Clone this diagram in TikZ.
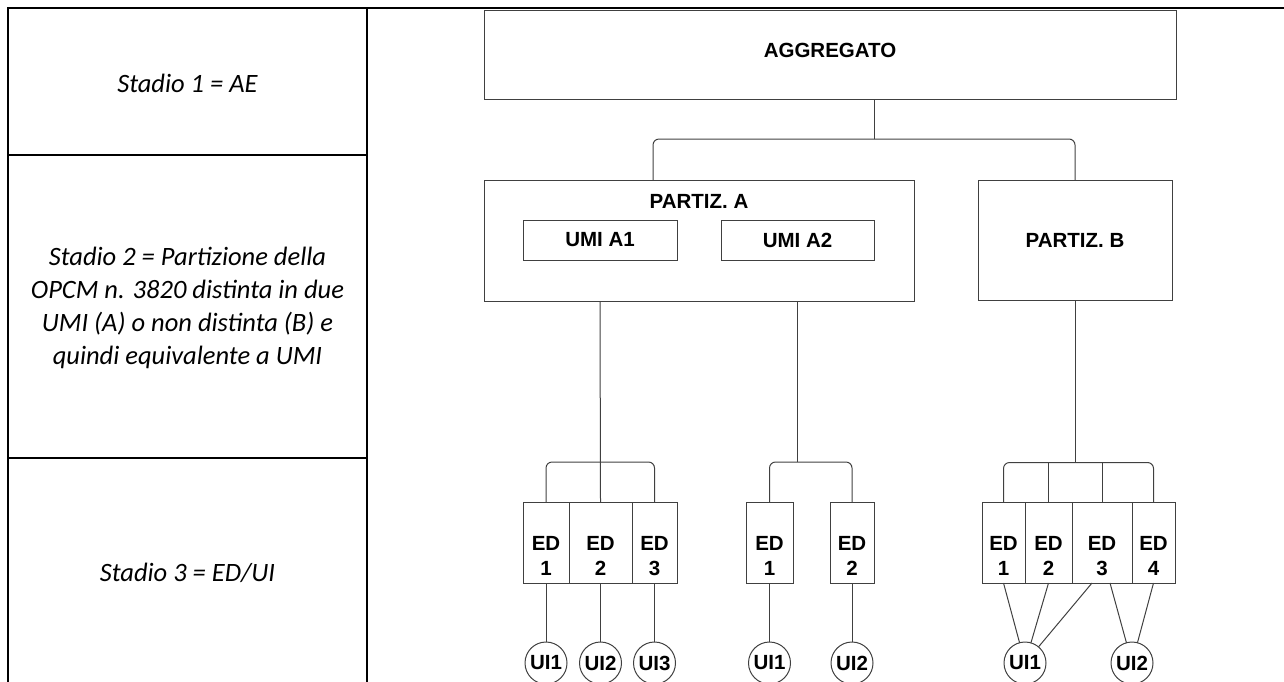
\documentclass[tikz,border=0pt]{standalone}
\usepackage{fontspec}
\setmainfont{Liberation Sans}
\newfontfamily\calib{Carlito}
\usetikzlibrary{positioning}

\begin{document}
\begin{tikzpicture}[x=1pt, y=-1pt,
	box/.style={draw=black!75, line width=1pt, inner sep=0pt, outer sep=0pt, font=\bfseries\fontsize{20.5}{24}\selectfont},
	ed/.style={box, minimum height=81pt},
	ui/.style={circle, draw=black!75, line width=1pt, minimum size=42pt, inner sep=0pt, outer sep=0pt, font=\bfseries\fontsize{20.5}{24}\selectfont},
	link/.style={draw=black!75, line width=1pt, rounded corners=6pt},
	tabline/.style={line width=2pt},
	stage/.style={align=center, font=\calib\itshape\fontsize{26.5}{33}\selectfont},
	edtxt/.style={align=center, text depth=0pt, yshift=-13pt, font=\bfseries\fontsize{20.5}{25}\selectfont},
	every label/.style={font=\bfseries\fontsize{20.5}{24}\selectfont},
	]
	\useasboundingbox (0,0) rectangle (1284,681);
	\clip (0,0) rectangle (1284,681);

	% table
	\draw[tabline] (8,700) -- (8,8) -- (1290,8);
	\draw[tabline] (367,8) -- (367,700);
	\draw[tabline] (8,155) -- (367,155);
	\draw[tabline] (8,458) -- (367,458);

	\node[stage] (st1) at (187.5,83) {Stadio 1 = AE};
	\node[stage] (st2) at (187.5,307.5) {Stadio 2 = Partizione della\\OPCM n. 3820 distinta in due\\UMI (A) o non distinta (B) e\\quindi equivalente a UMI};
	\node[stage] (st3) at (187.5,573) {Stadio 3 = ED/UI};

	% stadio 1 and 2
	\node[box, minimum width=692pt, minimum height=89pt, label={[yshift=4.5pt]center:AGGREGATO}] (agg) at (830,54.5) {};
	\node[box, minimum width=430pt, minimum height=121pt, label={[yshift=39.5pt]center:PARTIZ. A}] (pA) at (699,240.5) {};
	\node[box, minimum width=154pt, minimum height=40pt] (umiA1) at (600,240) {UMI A1};
	\node[box, minimum width=153pt, minimum height=40pt, right=44pt of umiA1] (umiA2) {UMI A2};
	\node[box, minimum width=194pt, minimum height=120pt, right=64pt of pA] (pB) {PARTIZ. B};

	% stadio 3
	\node[ed, minimum width=46pt, label={[edtxt]center:{ED\\1}}] (e11) at (546,542.5) {};
	\node[ed, minimum width=63pt, right=0pt of e11, label={[edtxt]center:{ED\\2}}] (e12) {};
	\node[ed, minimum width=45pt, right=0pt of e12, label={[edtxt]center:{ED\\3}}] (e13) {};

	\node[ed, minimum width=47pt, label={[edtxt]center:{ED\\1}}] (e21) at (769.5,542.5) {};
	\node[ed, minimum width=44pt, right=37pt of e21, label={[edtxt]center:{ED\\2}}] (e22) {};

	\node[ed, minimum width=43pt, label={[edtxt]center:{ED\\1}}] (e31) at (1003.5,542.5) {};
	\node[ed, minimum width=47pt, right=0pt of e31, label={[edtxt]center:{ED\\2}}] (e32) {};
	\node[ed, minimum width=60pt, right=0pt of e32, label={[edtxt]center:{ED\\3}}] (e33) {};
	\node[ed, minimum width=43pt, right=0pt of e33, label={[edtxt]center:{ED\\4}}] (e34) {};

	\node[ui, below=59pt of e11] (u11) {UI1};
	\node[ui, below=59pt of e12] (u12) {UI2};
	\node[ui, below=59pt of e13] (u13) {UI3};
	\node[ui, below=59pt of e21] (u21) {UI1};
	\node[ui, below=59pt of e22] (u22) {UI2};
	\node[ui] (u31) at (1025,663) {UI1};
	\node[ui] (u32) at (1132,663) {UI2};

	% connectors
	\draw[link] ([xshift=44pt]agg.south) -- ++(0,40) coordinate (bus0);
	\draw[link] (bus0) -| ([xshift=-46pt]pA.north);
	\draw[link] (bus0) -| (pB.north);

	\draw[link] (umiA1 |- pA.south) -- (e12.north);
	\draw[link] (e11.north) -- ++(0,-40) -| (e13.north);
	\draw[link] (umiA2 |- pA.south) -- ++(0,161) coordinate (bus2);
	\draw[link] (e21.north) |- (bus2) -| (e22.north);
	\draw[link] (pB.south) -- ++(0,162) coordinate (bus3);
	\draw[link] (e31.north) |- (bus3) -| (e34.north);
	\draw[link] (e32.north) -- (e32.north |- bus3);
	\draw[link] (e33.north) -- (e33.north |- bus3);

	\foreach \e/\u in {e11/u11, e12/u12, e13/u13, e21/u21, e22/u22}
		\draw[link] (\e) -- (\u);
	\draw[link] (e31.south) -- (u31);
	\draw[link] (e32.south) -- (u31);
	\draw[link] ([xshift=-10pt]e33.south) -- (u31);
	\draw[link] ([xshift=8pt]e33.south) -- (u32);
	\draw[link] (e34.south) -- (u32);
\end{tikzpicture}
\end{document}
